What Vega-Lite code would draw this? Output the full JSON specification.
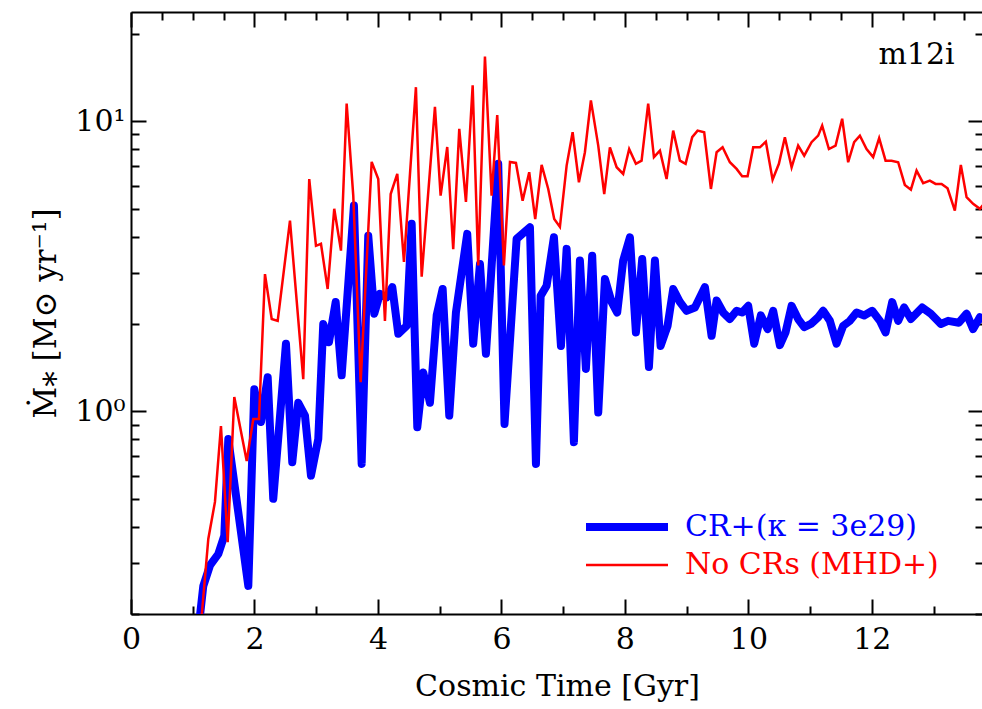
{
  "$schema": "https://vega.github.io/schema/vega-lite/v6.json",
  "width": 852,
  "height": 602,
  "autosize": {"type": "none"},
  "padding": {"left": 131, "top": 12, "right": 0, "bottom": 95},
  "background": "white",
  "config": {
    "view": {"stroke": null},
    "font": "DejaVu Serif",
    "axis": {
      "domainColor": "black", "domainWidth": 2, "tickColor": "black", "tickWidth": 2,
      "labelColor": "black", "titleColor": "black", "grid": false,
      "labelFont": "DejaVu Serif", "titleFont": "DejaVu Serif",
      "labelFontSize": 30, "titleFontSize": 30, "titleFontWeight": "normal",
      "labelFlush": false, "labelOverlap": false, "labelBound": false
    }
  },
  "datasets": {
    "cr": [
      {"t": 1.117, "sfr": 0.197}, {"t": 1.171, "sfr": 0.25}, {"t": 1.279, "sfr": 0.294}, {"t": 1.414, "sfr": 0.322},
      {"t": 1.511, "sfr": 0.372}, {"t": 1.576, "sfr": 0.802}, {"t": 1.9, "sfr": 0.25}, {"t": 1.997, "sfr": 1.19},
      {"t": 2.105, "sfr": 0.918}, {"t": 2.214, "sfr": 1.31}, {"t": 2.304, "sfr": 0.499}, {"t": 2.51, "sfr": 1.71},
      {"t": 2.612, "sfr": 0.667}, {"t": 2.709, "sfr": 1.07}, {"t": 2.818, "sfr": 0.966}, {"t": 2.915, "sfr": 0.6},
      {"t": 3.033, "sfr": 0.802}, {"t": 3.114, "sfr": 2.0}, {"t": 3.206, "sfr": 1.73}, {"t": 3.315, "sfr": 2.38},
      {"t": 3.412, "sfr": 1.33}, {"t": 3.611, "sfr": 5.12}, {"t": 3.736, "sfr": 0.658}, {"t": 3.843, "sfr": 4.03},
      {"t": 3.94, "sfr": 2.17}, {"t": 4.032, "sfr": 2.54}, {"t": 4.141, "sfr": 2.47}, {"t": 4.232, "sfr": 2.68},
      {"t": 4.329, "sfr": 1.85}, {"t": 4.465, "sfr": 1.97}, {"t": 4.546, "sfr": 4.43}, {"t": 4.637, "sfr": 0.881},
      {"t": 4.734, "sfr": 1.36}, {"t": 4.842, "sfr": 1.07}, {"t": 4.951, "sfr": 2.14}, {"t": 5.048, "sfr": 2.64},
      {"t": 5.155, "sfr": 0.966}, {"t": 5.263, "sfr": 2.19}, {"t": 5.446, "sfr": 4.09}, {"t": 5.543, "sfr": 1.71},
      {"t": 5.652, "sfr": 3.22}, {"t": 5.749, "sfr": 1.58}, {"t": 5.948, "sfr": 7.13}, {"t": 6.05, "sfr": 0.904},
      {"t": 6.246, "sfr": 3.93}, {"t": 6.462, "sfr": 4.31}, {"t": 6.559, "sfr": 0.658}, {"t": 6.635, "sfr": 2.5},
      {"t": 6.732, "sfr": 2.71}, {"t": 6.85, "sfr": 3.98}, {"t": 6.964, "sfr": 1.68}, {"t": 7.056, "sfr": 3.63},
      {"t": 7.174, "sfr": 0.782}, {"t": 7.271, "sfr": 3.31}, {"t": 7.368, "sfr": 1.4}, {"t": 7.47, "sfr": 3.44},
      {"t": 7.568, "sfr": 0.99}, {"t": 7.676, "sfr": 2.86}, {"t": 7.785, "sfr": 2.38}, {"t": 7.875, "sfr": 2.19},
      {"t": 7.972, "sfr": 3.31}, {"t": 8.081, "sfr": 3.98}, {"t": 8.178, "sfr": 1.87}, {"t": 8.28, "sfr": 3.35},
      {"t": 8.389, "sfr": 1.42}, {"t": 8.486, "sfr": 3.31}, {"t": 8.578, "sfr": 1.68}, {"t": 8.691, "sfr": 1.97},
      {"t": 8.782, "sfr": 2.64}, {"t": 8.891, "sfr": 2.38}, {"t": 8.999, "sfr": 2.22}, {"t": 9.134, "sfr": 2.28},
      {"t": 9.296, "sfr": 2.68}, {"t": 9.404, "sfr": 1.82}, {"t": 9.485, "sfr": 2.41}, {"t": 9.592, "sfr": 2.19},
      {"t": 9.7, "sfr": 2.08}, {"t": 9.809, "sfr": 2.22}, {"t": 9.899, "sfr": 2.19}, {"t": 9.997, "sfr": 2.31},
      {"t": 10.094, "sfr": 1.71}, {"t": 10.202, "sfr": 2.14}, {"t": 10.311, "sfr": 1.92}, {"t": 10.401, "sfr": 2.22},
      {"t": 10.51, "sfr": 1.69}, {"t": 10.602, "sfr": 1.87}, {"t": 10.7, "sfr": 2.31}, {"t": 10.806, "sfr": 2.08},
      {"t": 10.904, "sfr": 1.95}, {"t": 11.012, "sfr": 2.0}, {"t": 11.13, "sfr": 2.11}, {"t": 11.211, "sfr": 2.22},
      {"t": 11.32, "sfr": 2.05}, {"t": 11.428, "sfr": 1.71}, {"t": 11.535, "sfr": 1.97}, {"t": 11.644, "sfr": 2.05},
      {"t": 11.752, "sfr": 2.19}, {"t": 11.875, "sfr": 2.14}, {"t": 12.005, "sfr": 2.22}, {"t": 12.13, "sfr": 2.05},
      {"t": 12.222, "sfr": 1.87}, {"t": 12.329, "sfr": 2.38}, {"t": 12.426, "sfr": 2.05}, {"t": 12.523, "sfr": 2.28},
      {"t": 12.632, "sfr": 2.08}, {"t": 12.815, "sfr": 2.28}, {"t": 12.955, "sfr": 2.17}, {"t": 13.117, "sfr": 2.0},
      {"t": 13.235, "sfr": 2.05}, {"t": 13.409, "sfr": 2.02}, {"t": 13.534, "sfr": 2.17}, {"t": 13.64, "sfr": 1.92},
      {"t": 13.749, "sfr": 2.11}, {"t": 13.85, "sfr": 2.05}
    ],
    "nocr": [
      {"t": 1.145, "sfr": 0.197}, {"t": 1.252, "sfr": 0.363}, {"t": 1.36, "sfr": 0.487}, {"t": 1.457, "sfr": 0.889},
      {"t": 1.566, "sfr": 0.354}, {"t": 1.673, "sfr": 1.12}, {"t": 1.874, "sfr": 0.674}, {"t": 1.981, "sfr": 0.94},
      {"t": 2.073, "sfr": 0.94}, {"t": 2.17, "sfr": 2.97}, {"t": 2.279, "sfr": 2.08}, {"t": 2.376, "sfr": 2.05},
      {"t": 2.575, "sfr": 4.54}, {"t": 2.79, "sfr": 1.29}, {"t": 2.887, "sfr": 6.32}, {"t": 2.996, "sfr": 3.72},
      {"t": 3.077, "sfr": 3.78}, {"t": 3.185, "sfr": 2.64}, {"t": 3.292, "sfr": 4.99}, {"t": 3.401, "sfr": 3.58},
      {"t": 3.493, "sfr": 11.5}, {"t": 3.6, "sfr": 5.54}, {"t": 3.72, "sfr": 1.26}, {"t": 3.898, "sfr": 7.24},
      {"t": 4.005, "sfr": 6.32}, {"t": 4.113, "sfr": 2.05}, {"t": 4.206, "sfr": 5.61}, {"t": 4.313, "sfr": 6.58},
      {"t": 4.421, "sfr": 3.27}, {"t": 4.615, "sfr": 13.1}, {"t": 4.708, "sfr": 2.91}, {"t": 4.923, "sfr": 11.2},
      {"t": 5.015, "sfr": 5.54}, {"t": 5.122, "sfr": 8.15}, {"t": 5.219, "sfr": 3.62}, {"t": 5.317, "sfr": 9.41},
      {"t": 5.425, "sfr": 5.27}, {"t": 5.534, "sfr": 13.3}, {"t": 5.624, "sfr": 3.18}, {"t": 5.733, "sfr": 16.7},
      {"t": 5.841, "sfr": 5.54}, {"t": 5.932, "sfr": 10.5}, {"t": 6.04, "sfr": 3.18}, {"t": 6.138, "sfr": 7.24},
      {"t": 6.235, "sfr": 7.18}, {"t": 6.343, "sfr": 5.32}, {"t": 6.45, "sfr": 6.67}, {"t": 6.547, "sfr": 4.6},
      {"t": 6.651, "sfr": 7.07}, {"t": 6.758, "sfr": 5.84}, {"t": 6.855, "sfr": 4.6}, {"t": 6.947, "sfr": 4.32},
      {"t": 7.056, "sfr": 7.03}, {"t": 7.153, "sfr": 9.16}, {"t": 7.255, "sfr": 6.16}, {"t": 7.352, "sfr": 7.82},
      {"t": 7.449, "sfr": 11.8}, {"t": 7.568, "sfr": 8.24}, {"t": 7.665, "sfr": 5.61}, {"t": 7.757, "sfr": 8.13},
      {"t": 7.866, "sfr": 6.94}, {"t": 7.972, "sfr": 6.58}, {"t": 8.069, "sfr": 8.02}, {"t": 8.178, "sfr": 7.13},
      {"t": 8.27, "sfr": 7.31}, {"t": 8.377, "sfr": 11.5}, {"t": 8.47, "sfr": 7.52}, {"t": 8.567, "sfr": 7.92},
      {"t": 8.675, "sfr": 6.32}, {"t": 8.782, "sfr": 9.28}, {"t": 8.891, "sfr": 7.31}, {"t": 8.983, "sfr": 7.13},
      {"t": 9.09, "sfr": 8.81}, {"t": 9.177, "sfr": 9.28}, {"t": 9.284, "sfr": 9.16}, {"t": 9.393, "sfr": 5.84},
      {"t": 9.485, "sfr": 7.82}, {"t": 9.582, "sfr": 8.13}, {"t": 9.7, "sfr": 7.22}, {"t": 9.809, "sfr": 6.85},
      {"t": 9.899, "sfr": 6.46}, {"t": 9.987, "sfr": 6.46}, {"t": 10.078, "sfr": 8.13}, {"t": 10.186, "sfr": 8.13},
      {"t": 10.283, "sfr": 8.5}, {"t": 10.392, "sfr": 6.29}, {"t": 10.494, "sfr": 7.13}, {"t": 10.591, "sfr": 8.81},
      {"t": 10.7, "sfr": 6.94}, {"t": 10.806, "sfr": 8.24}, {"t": 10.904, "sfr": 7.61}, {"t": 11.023, "sfr": 8.47},
      {"t": 11.13, "sfr": 8.92}, {"t": 11.195, "sfr": 9.66}, {"t": 11.304, "sfr": 8.02}, {"t": 11.412, "sfr": 8.24},
      {"t": 11.519, "sfr": 10.2}, {"t": 11.616, "sfr": 7.22}, {"t": 11.713, "sfr": 8.47}, {"t": 11.806, "sfr": 8.92},
      {"t": 11.914, "sfr": 8.02}, {"t": 12.021, "sfr": 7.52}, {"t": 12.118, "sfr": 8.74}, {"t": 12.222, "sfr": 7.31},
      {"t": 12.319, "sfr": 7.3}, {"t": 12.426, "sfr": 7.22}, {"t": 12.534, "sfr": 6.03}, {"t": 12.632, "sfr": 5.81},
      {"t": 12.724, "sfr": 6.76}, {"t": 12.831, "sfr": 6.12}, {"t": 12.939, "sfr": 6.24}, {"t": 13.032, "sfr": 6.08},
      {"t": 13.129, "sfr": 6.08}, {"t": 13.226, "sfr": 5.87}, {"t": 13.344, "sfr": 4.92}, {"t": 13.441, "sfr": 7.07},
      {"t": 13.534, "sfr": 5.47}, {"t": 13.64, "sfr": 5.19}, {"t": 13.749, "sfr": 4.99}, {"t": 13.85, "sfr": 5.3}
    ],
    "label": [{"name": "m12i"}]
  },
  "resolve": {"axis": {"x": "independent", "y": "independent"}},
  "layer": [
    {
      "data": {"name": "cr"},
      "mark": {"type": "line", "strokeWidth": 8, "clip": true, "strokeJoin": "round"},
      "encoding": {
        "x": {
          "field": "t", "type": "quantitative",
          "scale": {"domain": [0, 13.8], "nice": false, "zero": false},
          "axis": {
            "orient": "bottom", "title": "Cosmic Time [Gyr]", "format": "d",
            "values": [0,0.5,1,1.5,2,2.5,3,3.5,4,4.5,5,5.5,6,6.5,7,7.5,8,8.5,9,9.5,10,10.5,11,11.5,12,12.5,13,13.5],
            "labelExpr": "datum.value % 2 === 0 ? datum.label : ''",
            "tickSize": {"condition": {"test": "datum.value % 2 === 0", "value": -15}, "value": -8},
            "labelPadding": 25, "titlePadding": 10
          }
        },
        "y": {
          "field": "sfr", "type": "quantitative",
          "scale": {"type": "log", "domain": [0.2, 23.8], "nice": false},
          "axis": {
            "orient": "left", "title": "Ṁ⁎ [M⊙ yr⁻¹]",
            "values": [0.2,0.3,0.4,0.5,0.6,0.7,0.8,0.9,1,2,3,4,5,6,7,8,9,10,20],
            "labelExpr": "datum.value === 1 ? '10⁰' : (datum.value === 10 ? '10¹' : '')",
            "tickSize": {"condition": {"test": "datum.value === 1 || datum.value === 10", "value": -15}, "value": -8},
            "labelPadding": 21, "titlePadding": 12, "titleFontSize": 31
          }
        },
        "color": {
          "datum": "CR+(κ = 3e29)",
          "scale": {"domain": ["CR+(κ = 3e29)", "No CRs (MHD+)"], "range": ["#0000ff", "#ff0000"]},
          "legend": {
            "orient": "none", "legendX": 481, "legendY": 500, "title": null,
            "symbolType": "M-3,0H3", "symbolSize": 747, "symbolStrokeWidth": 3,
            "labelFont": "DejaVu Serif", "labelFontSize": 30, "labelOffset": 43, "rowPadding": 7, "padding": 0,
            "labelLimit": 0,
            "encode": {
              "symbols": {"update": {"strokeWidth": {"signal": "datum.value === 'CR+(κ = 3e29)' ? 8 : 2.5"}}},
              "labels": {"update": {"fill": {"scale": "color", "field": "value"}}}
            }
          }
        }
      }
    },
    {
      "data": {"name": "nocr"},
      "mark": {"type": "line", "strokeWidth": 2.5, "clip": true},
      "encoding": {
        "x": {
          "field": "t", "type": "quantitative",
          "axis": {
            "orient": "top", "title": null, "labels": false,
            "values": [0,0.5,1,1.5,2,2.5,3,3.5,4,4.5,5,5.5,6,6.5,7,7.5,8,8.5,9,9.5,10,10.5,11,11.5,12,12.5,13,13.5],
            "tickSize": {"condition": {"test": "datum.value % 2 === 0", "value": -15}, "value": -8}
          }
        },
        "y": {
          "field": "sfr", "type": "quantitative",
          "axis": {
            "orient": "right", "title": null, "labels": false,
            "values": [0.2,0.3,0.4,0.5,0.6,0.7,0.8,0.9,1,2,3,4,5,6,7,8,9,10,20],
            "tickSize": {"condition": {"test": "datum.value === 1 || datum.value === 10", "value": -15}, "value": -8}
          }
        },
        "color": {"datum": "No CRs (MHD+)"}
      }
    },
    {
      "data": {"name": "label"},
      "mark": {"type": "text", "align": "right", "baseline": "alphabetic", "font": "DejaVu Serif", "fontSize": 30, "color": "black"},
      "encoding": {
        "x": {"datum": 13.34, "type": "quantitative", "axis": null},
        "y": {"datum": 15.8, "type": "quantitative", "axis": null},
        "text": {"field": "name"}
      }
    }
  ]
}
